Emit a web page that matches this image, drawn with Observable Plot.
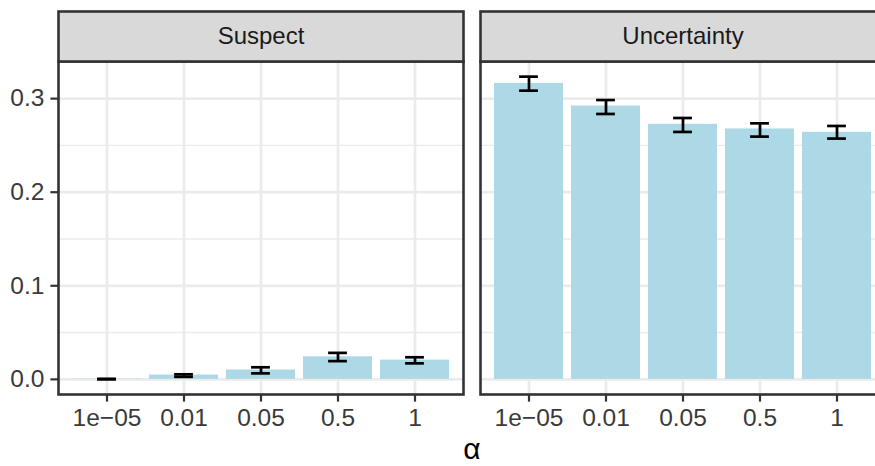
<!DOCTYPE html>
<html>
<head>
<meta charset="utf-8">
<script src="https://cdn.jsdelivr.net/npm/d3@7"></script>
<script src="https://cdn.jsdelivr.net/npm/@observablehq/plot@0.6"></script>
<style>
  html, body { margin: 0; padding: 0; background: #fff; overflow: hidden; }
  #wrap { position: relative; width: 875px; height: 466px; overflow: hidden; }
  #chart svg { max-width: none !important; }
  #xtitle {
    position: absolute; left: 58px; width: 828px; top: 434px;
    line-height: 30px; text-align: center; color: #000;
    font-family: "Liberation Sans", Arial, Helvetica, sans-serif; font-size: 30px;
  }
</style>
</head>
<body>
<div id="wrap">
  <div id="chart"></div>
  <div id="xtitle">α</div>
</div>
<script>
// Smoothing parameter values (x categories) and facet panels
const alphas = ["1e−05", "0.01", "0.05", "0.5", "1"];
const panels = ["Suspect", "Uncertainty"];

// Mean proportion with lower / upper error bounds, per panel
const suspectMean = [0.0003, 0.0046, 0.0100, 0.0241, 0.0206];
const suspectLow  = [0.0000, 0.0027, 0.0064, 0.0195, 0.0171];
const suspectHigh = [0.0006, 0.0054, 0.0129, 0.0283, 0.0236];

const uncertaintyMean = [0.3163, 0.2921, 0.2726, 0.2676, 0.2640];
const uncertaintyLow  = [0.3085, 0.2836, 0.2644, 0.2594, 0.2573];
const uncertaintyHigh = [0.3235, 0.2985, 0.2793, 0.2736, 0.2708];

// Axis ticks
const yTicks = [0, 0.1, 0.2, 0.3];
const yMinorTicks = [0.05, 0.15, 0.25];

// Long-format table for the marks
const rows = [
  ...alphas.map((a, i) => ({panel: "Suspect", alpha: a, mean: suspectMean[i], lo: suspectLow[i], hi: suspectHigh[i]})),
  ...alphas.map((a, i) => ({panel: "Uncertainty", alpha: a, mean: uncertaintyMean[i], lo: uncertaintyLow[i], hi: uncertaintyHigh[i]}))
];

// y domain: data range (bars start at 0) padded by 5% on each side
const yMin = Math.min(0, d3.min(rows, d => d.lo));
const yMax = d3.max(rows, d => d.hi);
const yPad = (yMax - yMin) * 0.05;

const font = '"Liberation Sans", Arial, Helvetica, sans-serif';
const W = 886, H = 436, mT = 61, mB = 42, mL = 58, mR = 0;
const panelH = H - mT - mB;
const grid = "#EBEBEB";
const dark = "#333333";

const chart = Plot.plot({
  width: W,
  height: H,
  marginTop: mT,
  marginBottom: mB,
  marginLeft: mL,
  marginRight: mR,
  style: {fontFamily: font, background: "white", maxWidth: "none", overflow: "visible"},
  fx: {domain: panels, axis: null, paddingInner: 0.0393, paddingOuter: 0, label: null},
  x: {domain: alphas, paddingInner: 0.1, paddingOuter: 0.15, align: 0.5, label: null},
  y: {domain: [yMin - yPad, yMax + yPad], label: null},
  marks: [
    // panel grid
    Plot.ruleY(yMinorTicks, {stroke: grid, strokeWidth: 1.4}),
    Plot.ruleY(yTicks, {stroke: grid, strokeWidth: 2.7}),
    Plot.ruleX(alphas, {stroke: grid, strokeWidth: 2.7}),
    // bars
    Plot.barY(rows, {fx: "panel", x: "alpha", y: "mean", fill: "#ADD8E6"}),
    // error bars
    Plot.ruleX(rows, {fx: "panel", x: "alpha", y1: "lo", y2: "hi", stroke: "black", strokeWidth: 2.7}),
    Plot.tickY(rows, {fx: "panel", x: "alpha", y: "lo", stroke: "black", strokeWidth: 2.7, insetLeft: 25.1, insetRight: 25.1}),
    Plot.tickY(rows, {fx: "panel", x: "alpha", y: "hi", stroke: "black", strokeWidth: 2.7, insetLeft: 25.1, insetRight: 25.1}),
    // panel border
    Plot.frame({stroke: dark, strokeWidth: 2.6}),
    // facet strips
    Plot.frame({fill: "#D9D9D9", stroke: dark, strokeWidth: 2.6, insetTop: -50, insetBottom: panelH}),
    Plot.text(panels, {fx: d => d, text: d => d, frameAnchor: "top", lineAnchor: "middle", dy: -25, fontSize: 24, fill: "#1A1A1A"}),
    // axes
    Plot.axisY(yTicks, {tickFormat: d3.format(".1f"), tickSize: 7.6, tickPadding: 6.5, fontSize: 24.5, color: "#3A3A3A", stroke: dark, strokeWidth: 2.2, label: null}),
    Plot.axisX({tickSize: 7.6, tickPadding: 6, fontSize: 24.5, color: "#3A3A3A", stroke: dark, strokeWidth: 2.2, label: null})
  ]
});

document.getElementById("chart").appendChild(chart);
</script>
</body>
</html>
